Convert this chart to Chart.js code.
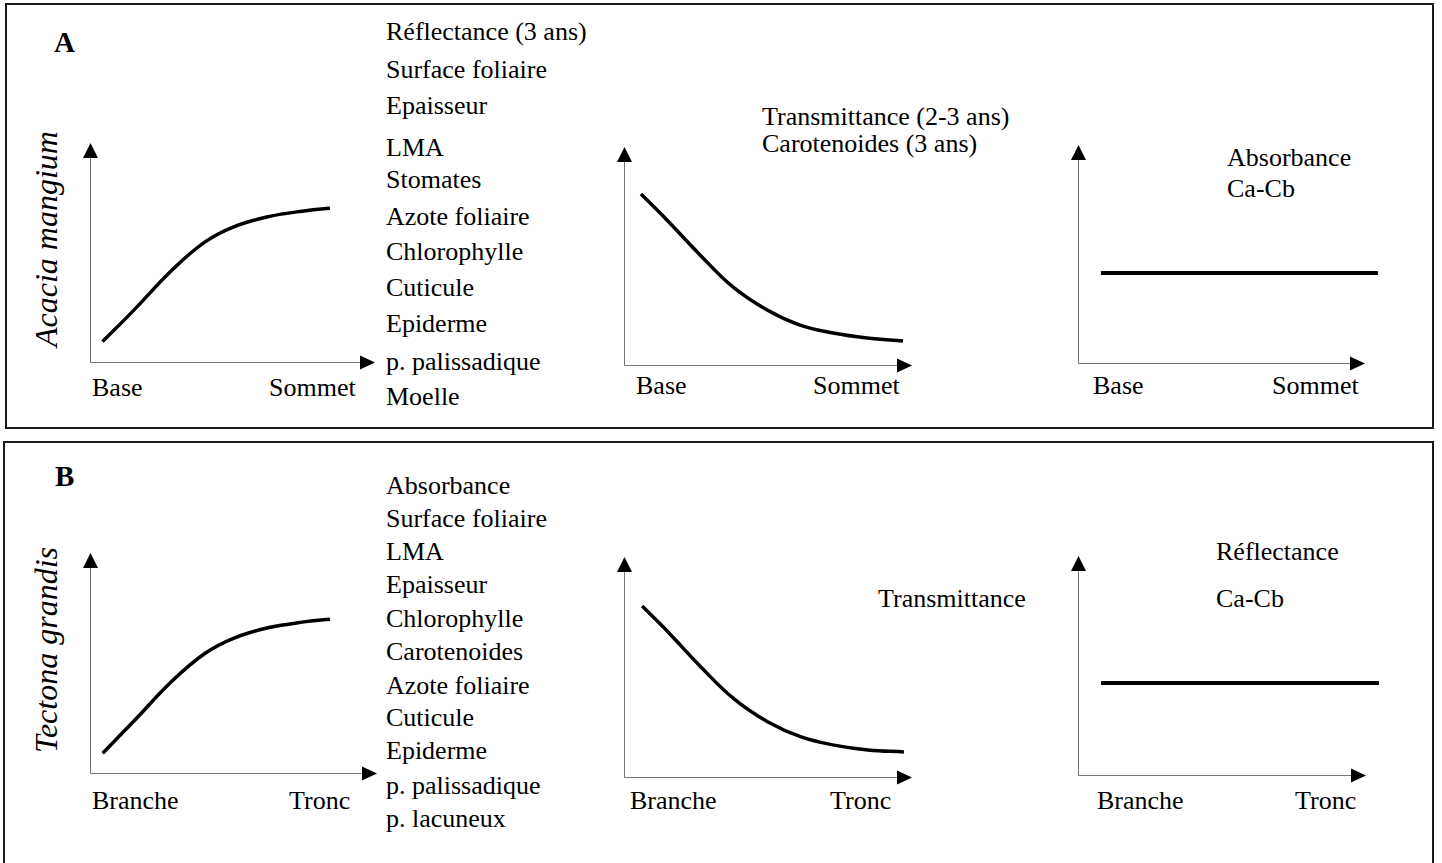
<!DOCTYPE html>
<html>
<head>
<meta charset="utf-8">
<script src="https://cdn.jsdelivr.net/npm/chart.js@4/dist/chart.umd.min.js"></script>
<style>
  html, body { margin:0; padding:0; background:#fff; }
  #root { position:relative; width:1442px; height:863px; overflow:hidden; background:#fff; }
  .box { position:absolute; border:2px solid #1a1a1a; box-sizing:border-box; }
  .t { position:absolute; white-space:nowrap; font-family:"Liberation Serif","Times New Roman",serif; color:#000; }
  canvas { position:absolute; }
</style>
</head>
<body>
<div id="root"></div>
<script>
// ---------------- DATA ----------------
const panelLetters = ['A', 'B'];
const speciesNames = ['Acacia mangium', 'Tectona grandis'];
const xEndLabelsA = ['Base', 'Sommet'];
const xEndLabelsB = ['Branche', 'Tronc'];

// Variables listed beside each panel
const listA1 = ['Réflectance (3 ans)', 'Surface foliaire', 'Epaisseur', 'LMA', 'Stomates', 'Azote foliaire', 'Chlorophylle', 'Cuticule', 'Epiderme', 'p. palissadique', 'Moelle'];
const listA2 = ['Transmittance (2-3 ans)', 'Carotenoides (3 ans)'];
const listA3 = ['Absorbance', 'Ca-Cb'];
const listB1 = ['Absorbance', 'Surface foliaire', 'LMA', 'Epaisseur', 'Chlorophylle', 'Carotenoides', 'Azote foliaire', 'Cuticule', 'Epiderme', 'p. palissadique', 'p. lacuneux'];
const listB2 = ['Transmittance'];
const listB3 = ['Réflectance', 'Ca-Cb'];

// Schematic curves (relative position 0-100 along each axis)
const riseAX = [4.4, 15.4, 28.8, 40.0, 50.0, 62.4, 75.8, 84.2];
const riseAY = [9.3, 23.7, 42.0, 54.5, 61.5, 66.3, 69.1, 70.2];
const riseBX = [4.4, 15.3, 28.6, 40.0, 50.0, 62.0, 75.3, 83.6];
const riseBY = [9.0, 23.6, 41.8, 54.3, 61.2, 66.0, 68.8, 69.9];
const fallAX = [5.9, 14.9, 26.4, 37.8, 49.7, 61.1, 72.6, 84.4, 96.9];
const fallAY = [78.4, 66.5, 50.5, 35.8, 25.2, 18.3, 14.7, 12.4, 11.0];
const fallBX = [6.3, 15.3, 26.7, 38.2, 50.0, 61.5, 72.9, 84.7, 97.2];
const fallBY = [77.7, 65.9, 50.0, 35.5, 25.0, 18.2, 14.5, 12.3, 11.4];
const flatAX = [8.0, 104.5];
const flatAY = [41.3, 41.3];
const flatBX = [8.0, 104.5];
const flatBY = [42.0, 42.0];

// ---------------- LAYOUT ----------------
const root = document.getElementById('root');

function box(l, t, r, b) {
  const d = document.createElement('div');
  d.className = 'box';
  d.style.left = l + 'px'; d.style.top = t + 'px';
  d.style.width = (r - l) + 'px'; d.style.height = (b - t) + 'px';
  root.appendChild(d);
}
box(5, 3, 1434, 429);
box(3, 441, 1434, 866);

function text(str, x, baseline, size, extra) {
  const d = document.createElement('div');
  d.className = 't';
  d.textContent = str;
  d.style.fontSize = size + 'px';
  d.style.lineHeight = size + 'px';
  d.style.left = x + 'px';
  d.style.top = (baseline - size * 0.8375) + 'px';
  if (extra) Object.assign(d.style, extra);
  root.appendChild(d);
  return d;
}
function rotated(str, cx, cy, size) {
  const d = document.createElement('div');
  d.className = 't';
  d.textContent = str;
  d.style.fontSize = size + 'px';
  d.style.lineHeight = size + 'px';
  d.style.fontStyle = 'italic';
  d.style.left = cx + 'px';
  d.style.top = cy + 'px';
  d.style.transform = 'translate(-50%,-50%) rotate(-90deg)';
  root.appendChild(d);
}

const FS = 26;
// Panel letters & species
text(panelLetters[0], 54, 52, 29, {fontWeight: 'bold'});
text(panelLetters[1], 55, 486, 29, {fontWeight: 'bold'});
rotated(speciesNames[0], 46, 239, 32);
rotated(speciesNames[1], 46, 650, 32);

// Lists
const baseA1 = [41, 79, 115, 157, 189, 226, 261, 297, 333, 371, 406];
listA1.forEach((s, i) => text(s, 386, baseA1[i], FS));
const baseB1 = [495, 528, 561, 594, 628, 661, 695, 727, 760, 795, 828];
listB1.forEach((s, i) => text(s, 386, baseB1[i], FS));
[126, 153].forEach((b, i) => text(listA2[i], 762, b, FS));
[167, 198].forEach((b, i) => text(listA3[i], 1227, b, FS));
text(listB2[0], 878, 608, FS);
[561, 608].forEach((b, i) => text(listB3[i], 1216, b, FS));

// Axis end labels
text(xEndLabelsA[0], 92, 397, FS);  text(xEndLabelsA[1], 269, 397, FS);
text(xEndLabelsA[0], 636, 395, FS); text(xEndLabelsA[1], 813, 395, FS);
text(xEndLabelsA[0], 1093, 395, FS); text(xEndLabelsA[1], 1272, 395, FS);
text(xEndLabelsB[0], 92, 810, FS);  text(xEndLabelsB[1], 289, 810, FS);
text(xEndLabelsB[0], 630, 810, FS); text(xEndLabelsB[1], 830, 810, FS);
text(xEndLabelsB[0], 1097, 810, FS); text(xEndLabelsB[1], 1295, 810, FS);

// ---------------- CHARTS ----------------
const arrowAxes = {
  id: 'arrowAxes',
  beforeDatasetsDraw(chart) {
    const {ctx, chartArea: a} = chart;
    const L = 15, H = 7;
    ctx.save();
    ctx.strokeStyle = '#777';
    ctx.lineWidth = 1;
    ctx.beginPath();
    ctx.moveTo(a.left + 0.5, a.top + L);
    ctx.lineTo(a.left + 0.5, a.bottom + 0.5);
    ctx.lineTo(a.right - L, a.bottom + 0.5);
    ctx.stroke();
    ctx.fillStyle = '#000';
    ctx.beginPath();
    ctx.moveTo(a.left + 0.5, a.top);
    ctx.lineTo(a.left + 0.5 - H - 0.5, a.top + L);
    ctx.lineTo(a.left + 0.5 + H + 0.5, a.top + L);
    ctx.closePath();
    ctx.fill();
    ctx.beginPath();
    ctx.moveTo(a.right, a.bottom + 0.5);
    ctx.lineTo(a.right - L, a.bottom + 0.5 - H);
    ctx.lineTo(a.right - L, a.bottom + 0.5 + H);
    ctx.closePath();
    ctx.fill();
    ctx.restore();
  }
};

function miniChart(L, T, R, B, xs, ys, width, tension) {
  const PAD = 22;
  const c = document.createElement('canvas');
  const w = R - L + 2 * PAD, h = B - T + 2 * PAD;
  c.width = w; c.height = h;
  c.style.left = (L - PAD) + 'px'; c.style.top = (T - PAD) + 'px';
  c.style.width = w + 'px'; c.style.height = h + 'px';
  root.appendChild(c);
  new Chart(c, {
    type: 'line',
    data: {
      datasets: [{
        data: xs.map((x, i) => ({x, y: ys[i]})),
        borderColor: '#000',
        borderWidth: width,
        pointRadius: 0,
        fill: false,
        clip: false,
        tension: tension,
        borderCapStyle: 'butt',
        borderJoinStyle: 'round'
      }]
    },
    options: {
      responsive: false,
      animation: false,
      devicePixelRatio: 1,
      layout: {padding: PAD},
      plugins: {legend: {display: false}, tooltip: {enabled: false}},
      events: [],
      scales: {
        x: {type: 'linear', min: 0, max: 100, display: false},
        y: {type: 'linear', min: 0, max: 100, display: false}
      }
    },
    plugins: [arrowAxes]
  });
}

miniChart(90, 143, 375, 362, riseAX, riseAY, 3.5, 0.4);
miniChart(624, 147, 912, 365, fallAX, fallAY, 3.5, 0.4);
miniChart(1078, 145, 1365, 363, flatAX, flatAY, 4, 0);
miniChart(90, 553, 377, 773, riseBX, riseBY, 3.5, 0.4);
miniChart(624, 557, 912, 777, fallBX, fallBY, 3.5, 0.4);
miniChart(1078, 556, 1366, 775, flatBX, flatBY, 4, 0);
</script>
</body>
</html>
